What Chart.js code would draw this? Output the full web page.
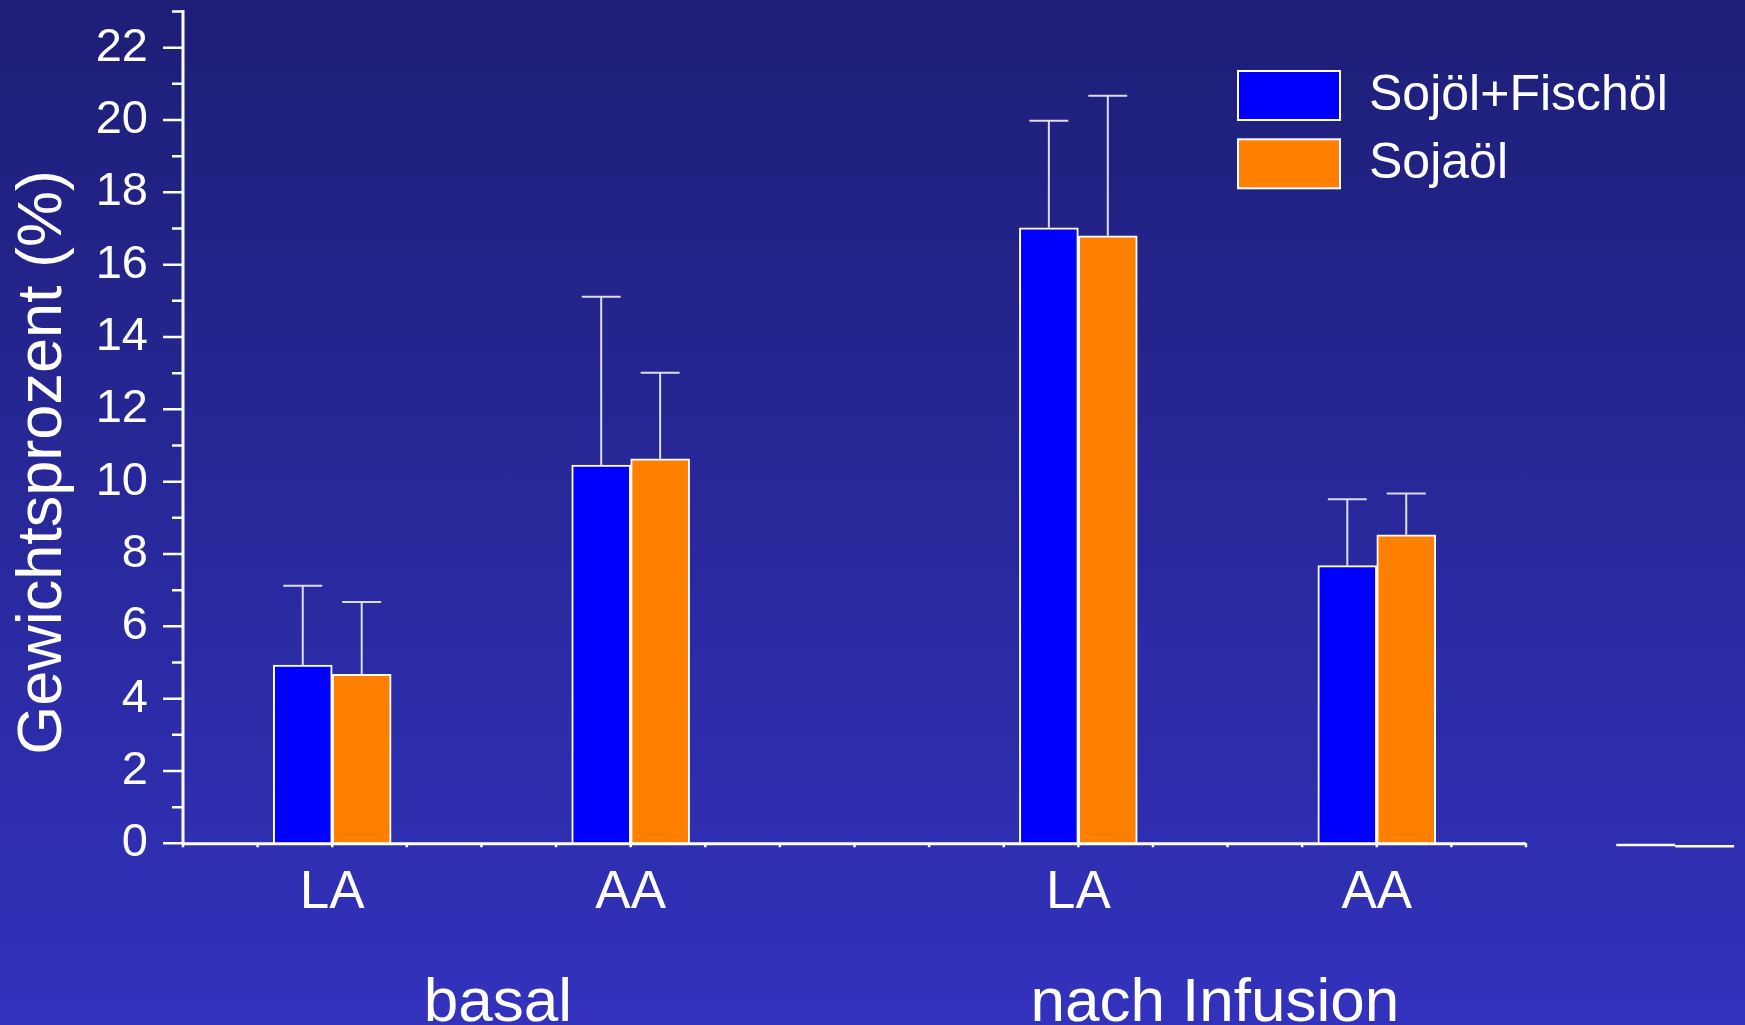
<!DOCTYPE html>
<html>
<head>
<meta charset="utf-8">
<title>Gewichtsprozent LA / AA</title>
<script src="https://cdn.jsdelivr.net/npm/chart.js@4/dist/chart.umd.min.js"></script>
<style>
  html, body {
    margin: 0;
    padding: 0;
    width: 1745px;
    height: 1025px;
    overflow: hidden;
    background: linear-gradient(to bottom, #1e1e77 0%, #3232bd 100%);
  }
  canvas { display: block; }
</style>
</head>
<body>
<canvas id="chart" width="1745" height="1025"></canvas>
<script>
// Fatty acid categories and their group positions on the x axis
const categories = ['LA', 'AA', 'LA', 'AA'];
const groupAt = [2, 6, 12, 16];
const phaseLabels = ['basal', 'nach Infusion'];
const seriesLabels = ['Sojöl+Fischöl', 'Sojaöl'];

// Means and standard deviations (Gewichtsprozent)
const fishMean = [4.93, 10.46, 17.02, 7.68];
const fishSD = [2.19, 4.65, 2.96, 1.83];
const soyMean = [4.67, 10.63, 16.80, 8.53];
const soySD = [2.00, 2.38, 3.87, 1.14];

// Empty trailing group, drawn as two flat strokes
const trailingGroupAt = 20;
const trailingLevels = [-0.05, -0.08];

// y axis tick labels
const yTickLabels = ['0', '2', '4', '6', '8', '10', '12', '14', '16', '18', '20', '22'];

const Y_MAX = 23;
const X_AXIS_END = 18;
const X_MAX = 20.8;
const HALF_SLOT = 0.395;       // half of one bar slot, in x units
const FONT = "'Liberation Sans', Arial, Helvetica, sans-serif";
const WHITE = '#ffffff';

const barPoints = (means, side) =>
  means.map((v, i) => ({ x: groupAt[i] + side * HALF_SLOT, y: v }));

const strokePoints = (level, side) => {
  const a = trailingGroupAt;
  const b = trailingGroupAt + side * 2 * HALF_SLOT;
  return [{ x: Math.min(a, b), y: level }, { x: Math.max(a, b), y: level }];
};

const barStyle = {
  type: 'bar',
  borderColor: WHITE,
  borderWidth: 2,
  borderSkipped: 'start',
  grouped: false,
  barPercentage: 1,
  categoryPercentage: 1
};

const strokeStyle = {
  type: 'line',
  borderColor: WHITE,
  borderWidth: 2.5,
  pointRadius: 0,
  clip: false,
  fill: false
};

// Error bars (mean + SD) above each bar
const errorBarPlugin = {
  id: 'errorBars',
  afterDatasetsDraw(chart) {
    const ctx = chart.ctx;
    const yScale = chart.scales.y;
    ctx.save();
    ctx.strokeStyle = '#dcdcee';
    ctx.lineWidth = 2;
    chart.data.datasets.forEach((ds, di) => {
      if (!ds.sd) return;
      const meta = chart.getDatasetMeta(di);
      meta.data.forEach((el, i) => {
        const top = yScale.getPixelForValue(ds.data[i].y + ds.sd[i]);
        const half = el.width * 0.33;
        ctx.beginPath();
        ctx.moveTo(el.x, el.y);
        ctx.lineTo(el.x, top);
        ctx.moveTo(el.x - half, top);
        ctx.lineTo(el.x + half, top);
        ctx.stroke();
      });
    });
    ctx.restore();
  }
};

// Axis lines with major/minor tick marks
const axesPlugin = {
  id: 'axes',
  afterDatasetsDraw(chart) {
    const ctx = chart.ctx;
    const x = chart.scales.x;
    const y = chart.scales.y;
    const left = chart.chartArea.left;
    const y0 = y.getPixelForValue(0);
    ctx.save();
    ctx.strokeStyle = WHITE;
    ctx.lineCap = 'butt';

    ctx.lineWidth = 3;
    ctx.beginPath();
    ctx.moveTo(left, y.getPixelForValue(Y_MAX) - 1.5);
    ctx.lineTo(left, y0 + 1.5);
    ctx.moveTo(left, y0 + 0.5);
    ctx.lineTo(x.getPixelForValue(X_AXIS_END), y0 + 0.5);
    ctx.stroke();

    ctx.lineWidth = 2.5;
    ctx.beginPath();
    for (let v = 0; v <= Y_MAX; v++) {
      const py = y.getPixelForValue(v);
      const len = v % 2 === 0 ? 20 : 11;
      ctx.moveTo(left - len, py);
      ctx.lineTo(left, py);
    }
    for (let v = 0; v <= X_AXIS_END; v++) {
      const px = x.getPixelForValue(v);
      ctx.moveTo(px, y0);
      ctx.lineTo(px, y0 + 4);
    }
    ctx.stroke();
    ctx.restore();
  }
};

// Category names, phase names, y title and legend
const textPlugin = {
  id: 'texts',
  afterDraw(chart) {
    const ctx = chart.ctx;
    const x = chart.scales.x;
    const yCenter = (chart.chartArea.top + chart.chartArea.bottom) / 2;
    ctx.save();
    ctx.fillStyle = WHITE;

    ctx.textAlign = 'center';
    ctx.textBaseline = 'alphabetic';
    ctx.font = `53px ${FONT}`;
    categories.forEach((c, i) => ctx.fillText(c, x.getPixelForValue(groupAt[i]), 908));

    ctx.font = `62px ${FONT}`;
    const phaseAt = [4.22, 13.83];
    phaseLabels.forEach((p, i) => ctx.fillText(p, x.getPixelForValue(phaseAt[i]), 1021));

    ctx.save();
    ctx.translate(61, yCenter + 35);
    ctx.rotate(-Math.PI / 2);
    ctx.font = `63px ${FONT}`;
    ctx.fillText('Gewichtsprozent (%)', 0, 0);
    ctx.restore();

    // legend
    ctx.textAlign = 'left';
    ctx.textBaseline = 'middle';
    ctx.font = `50px ${FONT}`;
    chart.data.datasets.forEach((ds, i) => {
      if (!ds.sd) return;
      const top = 71 + i * 68.3;
      ctx.fillStyle = ds.backgroundColor;
      ctx.fillRect(1238, top, 102, 49);
      ctx.strokeStyle = WHITE;
      ctx.lineWidth = 2;
      ctx.strokeRect(1238, top, 102, 49);
      ctx.fillStyle = WHITE;
      ctx.fillText(ds.label, 1369, top + 25);
    });
    ctx.restore();
  }
};

new Chart(document.getElementById('chart'), {
  type: 'bar',
  data: {
    datasets: [
      Object.assign({}, barStyle, {
        label: seriesLabels[0],
        data: barPoints(fishMean, -1),
        sd: fishSD,
        backgroundColor: '#0000ff'
      }),
      Object.assign({}, barStyle, {
        label: seriesLabels[1],
        data: barPoints(soyMean, 1),
        sd: soySD,
        backgroundColor: '#ff8000'
      }),
      Object.assign({}, strokeStyle, { data: strokePoints(trailingLevels[0], -1) }),
      Object.assign({}, strokeStyle, { data: strokePoints(trailingLevels[1], 1) })
    ]
  },
  options: {
    responsive: false,
    animation: false,
    devicePixelRatio: 1,
    layout: { padding: { top: 11.5, right: 10.1, left: 0, bottom: 0 } },
    plugins: {
      legend: { display: false },
      tooltip: { enabled: false }
    },
    scales: {
      x: {
        type: 'linear',
        min: 0,
        max: X_MAX,
        offset: false,
        grid: { display: false, drawTicks: false },
        border: { display: false },
        ticks: { display: false, stepSize: 1 },
        afterFit(scale) {
          scale.height = 181.7;
          scale.paddingLeft = 0;
          scale.paddingRight = 0;
        }
      },
      y: {
        type: 'linear',
        min: 0,
        max: Y_MAX,
        grid: { display: false, drawTicks: false },
        border: { display: false },
        ticks: {
          stepSize: 1,
          autoSkip: false,
          padding: 35,
          color: WHITE,
          font: { family: FONT, size: 47 },
          callback(v) {
            const idx = yTickLabels.indexOf(String(v));
            return idx >= 0 ? yTickLabels[idx] : null;
          }
        },
        afterFit(scale) {
          scale.width = 183;
          scale.paddingTop = 0;
          scale.paddingBottom = 0;
        }
      }
    }
  },
  plugins: [errorBarPlugin, axesPlugin, textPlugin]
});
</script>
</body>
</html>
